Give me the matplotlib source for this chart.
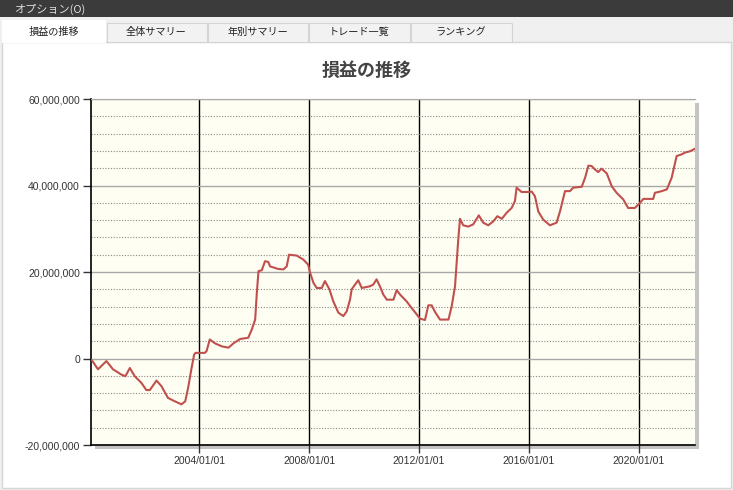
import numpy as np
import pandas as pd
import matplotlib
matplotlib.use('Agg')
import matplotlib.pyplot as plt
import matplotlib.dates as mdates
import matplotlib.ticker as mticker
from matplotlib.patches import Rectangle

# ---- data (P/L in millions of yen) ----
dates = [
    "2000-01-26", "2000-02-15", "2000-04-28", "2000-08-18", "2000-11-13",
    "2001-03-03", "2001-04-27", "2001-06-25", "2001-08-29", "2001-11-24",
    "2002-01-30", "2002-03-18", "2002-06-14", "2002-08-19", "2002-11-13",
    "2003-02-13", "2003-05-12", "2003-07-01", "2003-08-08", "2003-09-20",
    "2003-10-27", "2003-11-14", "2004-03-17", "2004-04-09", "2004-05-22",
    "2004-07-30", "2004-10-30", "2005-01-26", "2005-04-01", "2005-06-28",
    "2005-10-15", "2005-12-01", "2006-01-15", "2006-02-06", "2006-02-28",
    "2006-04-13", "2006-05-26", "2006-07-09", "2006-07-31", "2006-11-17",
    "2007-01-25", "2007-03-10", "2007-04-10", "2007-07-20", "2007-10-15",
    "2007-12-20", "2008-01-15", "2008-02-28", "2008-04-12", "2008-06-17",
    "2008-07-30", "2008-09-27", "2008-11-18", "2009-01-24", "2009-03-31",
    "2009-05-15", "2009-06-28", "2009-07-20", "2009-10-15", "2009-12-01",
    "2010-03-20", "2010-05-03", "2010-06-16", "2010-07-30", "2010-09-13",
    "2010-10-30", "2011-01-26", "2011-03-10", "2011-04-23", "2011-07-20",
    "2011-09-24", "2011-12-01", "2012-01-15", "2012-03-20", "2012-05-03",
    "2012-06-17", "2012-07-30", "2012-10-05", "2013-01-26", "2013-03-10",
    "2013-04-23", "2013-06-05", "2013-06-28", "2013-08-10", "2013-10-15",
    "2013-12-20", "2014-03-05", "2014-05-03", "2014-07-08", "2014-09-13",
    "2014-11-06", "2015-01-05", "2015-03-10", "2015-05-15", "2015-06-28",
    "2015-07-20", "2015-09-24", "2015-12-20", "2016-02-06", "2016-03-20",
    "2016-05-03", "2016-07-08", "2016-10-05", "2017-01-01", "2017-02-17",
    "2017-04-23", "2017-06-28", "2017-08-10", "2017-12-01", "2018-01-15",
    "2018-02-28", "2018-04-12", "2018-05-26", "2018-07-08", "2018-08-21",
    "2018-10-30", "2019-01-05", "2019-03-10", "2019-06-05", "2019-08-10",
    "2019-11-06", "2020-01-15", "2020-02-28", "2020-07-08", "2020-07-30",
    "2020-10-30", "2021-01-05", "2021-03-10", "2021-05-15", "2021-07-20",
    "2021-09-01", "2021-11-06", "2022-01-14",
]
pnl_million = [
    -0.3, -0.6, -2.5, -0.6, -2.5,
    -3.7, -4.1, -2.2, -4.1, -5.6,
    -7.3, -7.3, -5.1, -6.4, -9.1,
    -9.9, -10.6, -9.9, -6.8, -2.5,
    0.9, 1.3, 1.3, 1.7, 4.4,
    3.5, 2.8, 2.5, 3.5, 4.5,
    4.8, 6.7, 9.0, 15.2, 20.2,
    20.4, 22.5, 22.3, 21.3, 20.7,
    20.6, 21.3, 24.0, 23.8, 22.9,
    21.7, 19.8, 17.5, 16.3, 16.3,
    17.9, 16.0, 13.2, 10.6, 9.8,
    10.9, 13.6, 16.0, 18.1, 16.3,
    16.7, 17.1, 18.3, 16.7, 14.8,
    13.6, 13.6, 15.8, 14.8, 13.2,
    11.7, 10.2, 9.2, 8.9, 12.3,
    12.3, 10.8, 9.0, 9.0, 12.1,
    16.7, 27.5, 32.3, 30.8, 30.5,
    31.0, 33.1, 31.4, 30.8, 31.7,
    32.9, 32.3, 33.7, 34.8, 36.4,
    39.5, 38.5, 38.5, 38.6, 37.5,
    34.0, 32.1, 30.8, 31.4, 34.1,
    38.7, 38.7, 39.5, 39.7, 41.8,
    44.6, 44.5, 43.7, 43.1, 43.9,
    42.8, 39.8, 38.3, 36.8, 34.8,
    34.8, 36.0, 36.9, 36.9, 38.3,
    38.7, 39.1, 41.8, 46.8, 47.2,
    47.6, 47.9, 48.5,
]
tab_labels = ["損益の推移", "全体サマリー", "年別サマリー", "トレード一覧", "ランキング"]
title = "損益の推移"
menu_label = "オプション(O)"

W, H = 733, 490
JP = ['Noto Sans CJK JP', 'DejaVu Sans']
plt.rcParams['font.family'] = ['Liberation Sans', 'DejaVu Sans']

fig = plt.figure(figsize=(W / 100, H / 100), dpi=100)
fig.patch.set_facecolor('#f0f0f0')


def box(x0, y0, x1, y1, **kw):
    # pixel box (top-left origin) -> figure fraction rectangle
    r = Rectangle((x0 / W, 1 - y1 / H), (x1 - x0) / W, (y1 - y0) / H,
                  transform=fig.transFigure, **kw)
    fig.patches.append(r)
    return r


# window chrome: menu bar, tabs, content panel
box(0, 0, W, 17, facecolor='#3b3b3b', edgecolor='none', zorder=-5)
fig.text(14 / W, 1 - 9 / H, menu_label, family=JP, fontsize=8,
         color='#dcdcdc', va='center', ha='left')
box(2, 42, 731, 488, facecolor='white', edgecolor='#d6d6d6', lw=1, zorder=-5)
tab_edges = [2, 106, 207, 308, 410, 512]
for i, lab in enumerate(tab_labels):
    x0, x1 = tab_edges[i], tab_edges[i + 1]
    if i == 0:
        box(x0, 20, x1, 43, facecolor='white', edgecolor='none', zorder=-4)
    else:
        box(x0 + 1, 23, x1, 42, facecolor='#f2f2f2', edgecolor='#d4d4d4',
            lw=0.8, zorder=-4)
    fig.text((x0 + x1) / 2 / W, 1 - 32 / H, lab, family=JP, fontsize=7.3,
             color='#222222', ha='center', va='center')

fig.text(367 / W, 1 - 70 / H, title, family=JP, fontsize=13,
         fontweight='bold', color='#444444', ha='center', va='center')

# plot area + drop shadow
px0, py0, px1, py1 = 91, 99, 695, 445
box(px0 + 4, py0 + 4, px1 + 4, py1 + 4, facecolor='#c4c4c4', edgecolor='none',
    zorder=-1)
ax = fig.add_axes([px0 / W, 1 - py1 / H, (px1 - px0) / W, (py1 - py0) / H])
ax.set_facecolor('#fefef2')

x = pd.to_datetime(dates)
y = np.array(pnl_million) * 1e6
ax.plot(x, y, color='#c0504d', lw=1.5, zorder=3)

ax.set_xlim(x[0], x[-1])
ax.set_ylim(-20e6, 60e6)
ax.yaxis.set_major_locator(mticker.MultipleLocator(20e6))
ax.yaxis.set_minor_locator(mticker.MultipleLocator(4e6))
ax.yaxis.set_major_formatter(mticker.FuncFormatter(lambda v, p: f"{v:,.0f}"))
ax.xaxis.set_major_locator(mdates.YearLocator(4, month=1, day=1))
ax.xaxis.set_major_formatter(mdates.DateFormatter('%Y/%m/%d'))

ax.grid(True, axis='y', which='major', color='#a8a8a8', lw=1, zorder=1)
ax.grid(True, axis='y', which='minor', color='#8a8a8a', lw=0.8,
        linestyle=(0, (1, 1.5)), zorder=1)
ax.grid(True, axis='x', which='major', color='black', lw=1, zorder=1)
ax.set_axisbelow(True)

ax.tick_params(axis='both', which='major', length=6, width=1, color='#333333',
               labelsize=7.5, labelcolor='#333333', pad=2)
ax.tick_params(axis='y', which='minor', length=0)

for s in ['left', 'bottom']:
    ax.spines[s].set_color('black')
    ax.spines[s].set_linewidth(1.2)
ax.spines['top'].set_color('#a8a8a8')
ax.spines['right'].set_visible(False)

fig.savefig('out.png', dpi=100, facecolor=fig.get_facecolor())
